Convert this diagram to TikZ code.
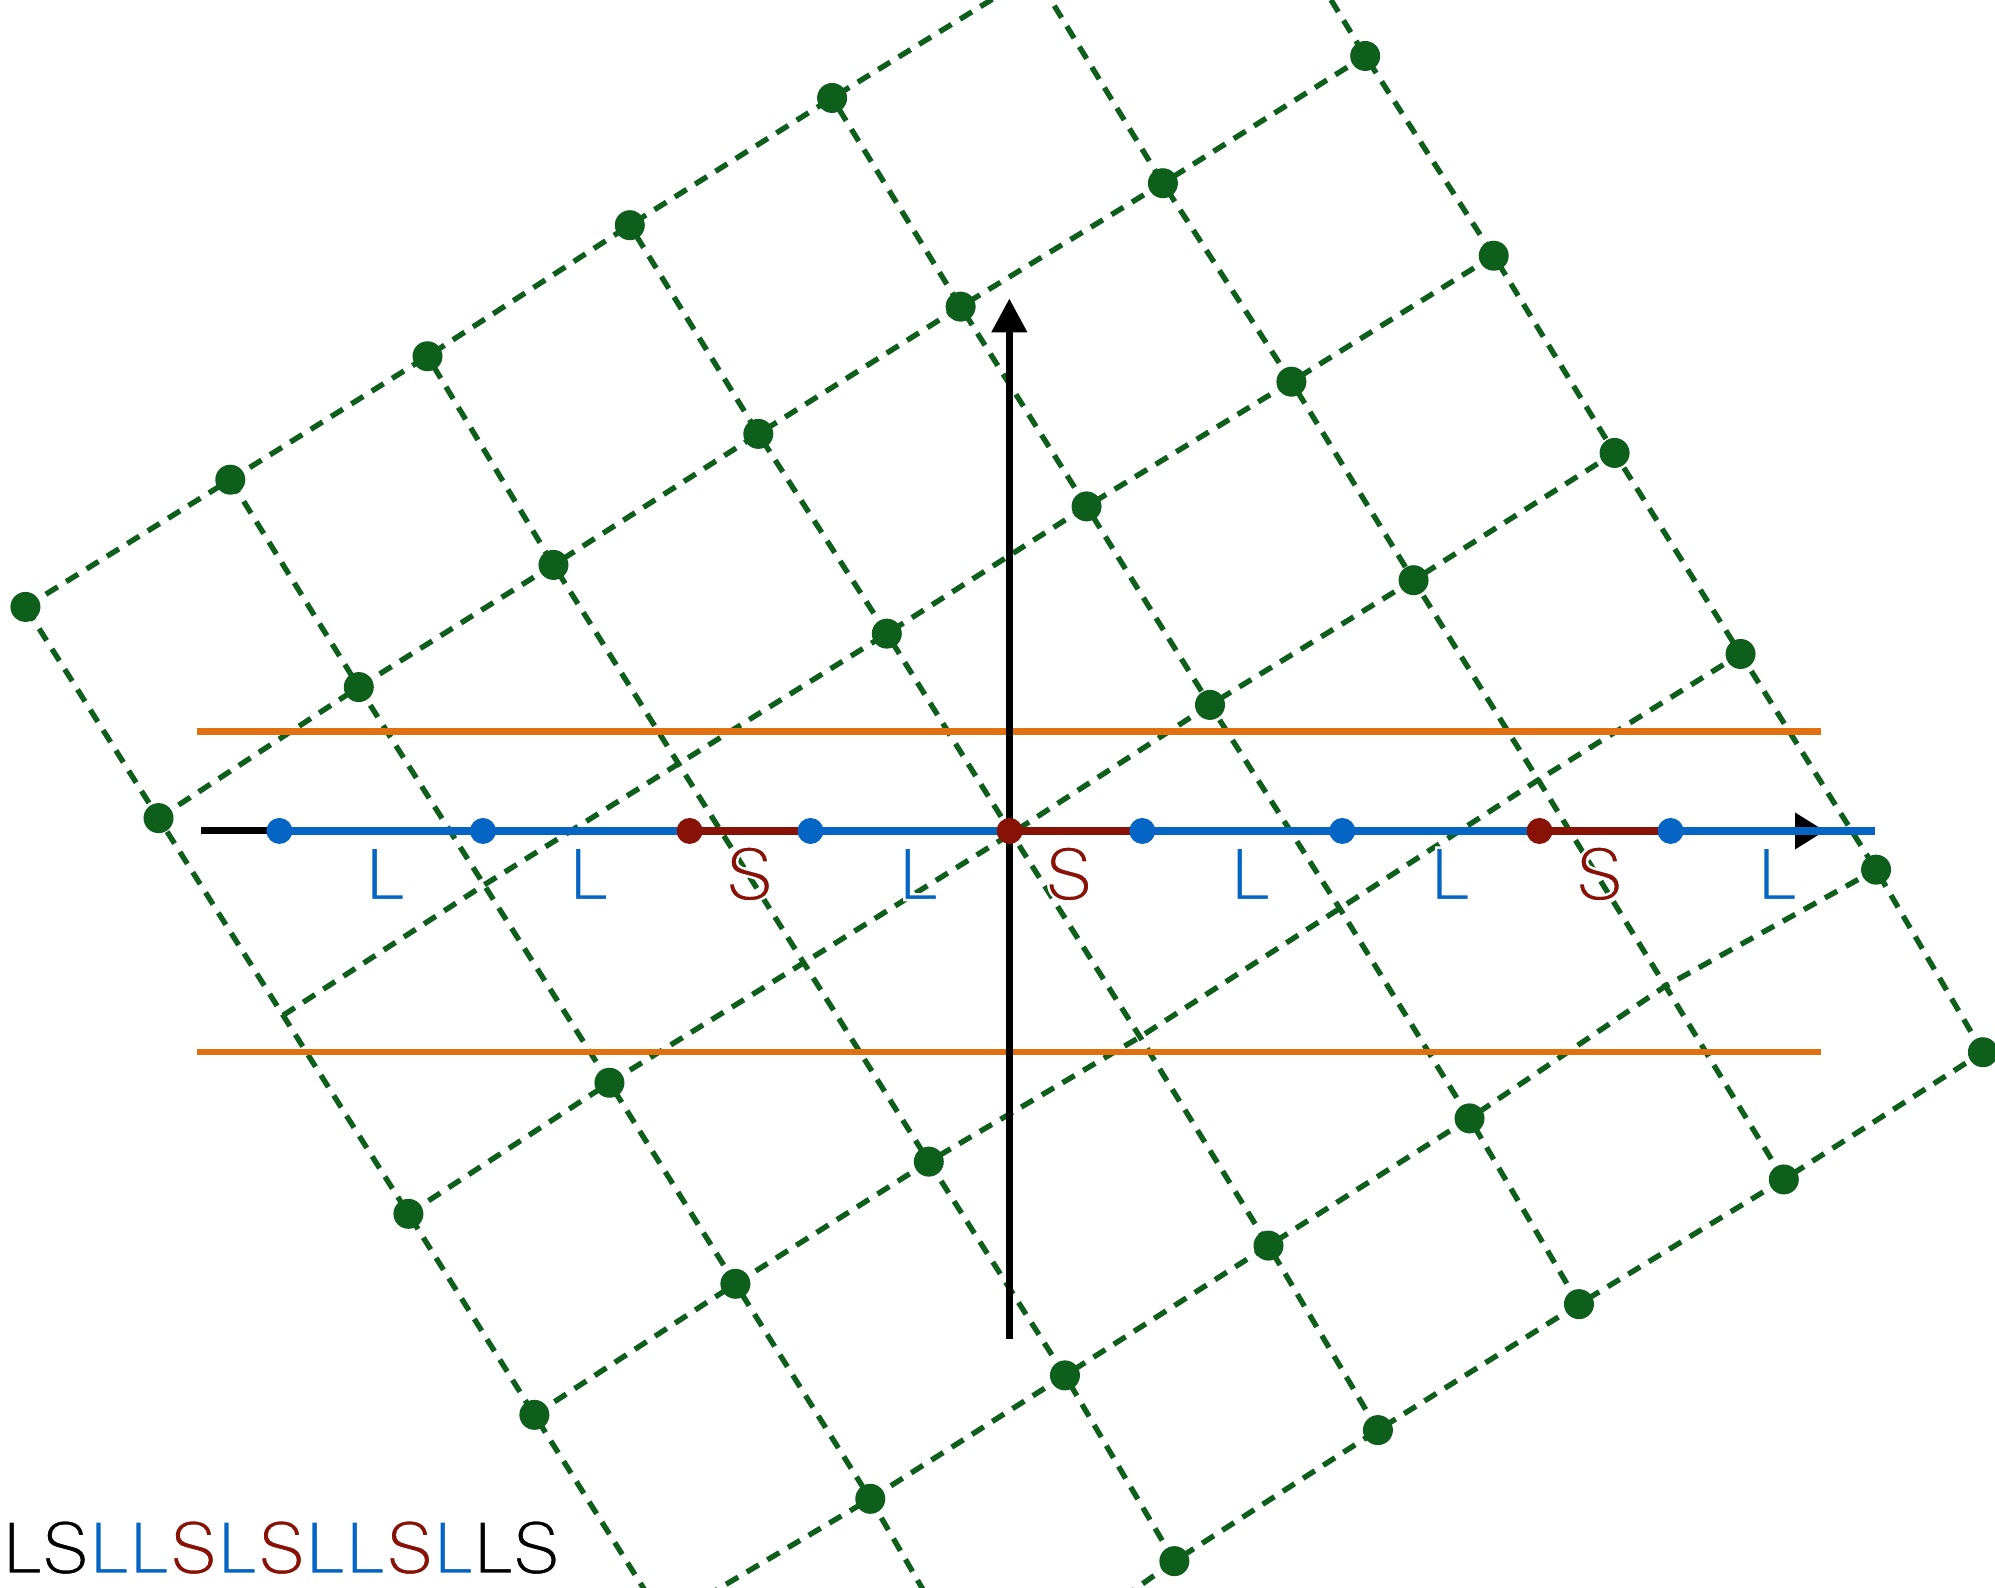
\documentclass[tikz,border=0pt]{standalone}
\usepackage{fontspec}
\setmainfont{TeX Gyre Heros}
\usetikzlibrary{arrows.meta}
\definecolor{gr}{RGB}{14,94,28}
\definecolor{bl}{RGB}{5,101,196}
\definecolor{rd}{RGB}{136,18,5}
\definecolor{orng}{RGB}{224,112,16}
% thin the glyphs: fill in colour, then stroke the outline in white
\newcommand\thintext[2]{\textcolor{#1}{\special{pdf:literal direct 2 Tr 1 1 1 RG 2.4 w}#2\special{pdf:literal direct 0 Tr}}}
\begin{document}
\begin{tikzpicture}[x=1.27232pt, y=-1.27232pt,
  gridline/.style={gr, line width=5.4pt, dash pattern=on 14pt off 10pt},
  gdot/.style={fill=gr},
  axisline/.style={black, line width=7.5pt},
  band/.style={orng, line width=6.5pt},
  seglong/.style={bl, line width=8pt},
  segshort/.style={rd, line width=8pt},
  lab/.style={anchor=base, inner sep=0pt, font=\fontsize{72}{80}\selectfont},
]
\useasboundingbox (0,0) rectangle (1568,1248);
% lattice points (m = a..g for -3..3, n = a..g for -3..3)
\coordinate (Paa) at (615,1432);  \coordinate (Pab) at (522,1274);
\coordinate (Pac) at (420,1112);  \coordinate (Pad) at (321,954);
\coordinate (Pae) at (222.5,798); \coordinate (Paf) at (124.6,643);
\coordinate (Pag) at (20,477);
\coordinate (Pba) at (774,1333);  \coordinate (Pbb) at (684,1178);
\coordinate (Pbc) at (578,1009);  \coordinate (Pbd) at (479,851);
\coordinate (Pbe) at (380.5,695.5); \coordinate (Pbf) at (282,540);
\coordinate (Pbg) at (181,377);
\coordinate (Pca) at (923,1227);  \coordinate (Pcb) at (837,1081);
\coordinate (Pcc) at (730,913);   \coordinate (Pcd) at (631.7,756.7);
\coordinate (Pce) at (533.3,600.3); \coordinate (Pcf) at (435,444);
\coordinate (Pcg) at (336,280);
\coordinate (Pda) at (1083,1124); \coordinate (Pdb) at (997,979);
\coordinate (Pdc) at (896,815);   \coordinate (Pdd) at (795,655);
\coordinate (Pde) at (697,498);   \coordinate (Pdf) at (596,341);
\coordinate (Pdg) at (495,177);
\coordinate (Pea) at (1241,1025); \coordinate (Peb) at (1155,879);
\coordinate (Pec) at (1053,714);  \coordinate (Ped) at (951,554);
\coordinate (Pee) at (854,398);   \coordinate (Pef) at (755,241);
\coordinate (Peg) at (654,77);
\coordinate (Pfa) at (1402,927);  \coordinate (Pfb) at (1309,775);
\coordinate (Pfc) at (1209,613);  \coordinate (Pfd) at (1111,456);
\coordinate (Pfe) at (1015,300);  \coordinate (Pff) at (914,144);
\coordinate (Pfg) at (813,-21);
\coordinate (Pga) at (1558.5,827); \coordinate (Pgb) at (1474.5,683.5);
\coordinate (Pgc) at (1368,514);  \coordinate (Pgd) at (1269,356);
\coordinate (Pge) at (1174,201);  \coordinate (Pgf) at (1073,44);
\coordinate (Pgg) at (973,-120);
\begin{scope}
  \clip (0,0) rectangle (1568,1248);
  \foreach \k in {a,b,c,d,e,f,g} {
    \draw[gridline] (Pa\k) -- (Pb\k) -- (Pc\k) -- (Pd\k) -- (Pe\k) -- (Pf\k) -- (Pg\k);
    \draw[gridline] (P\k a) -- (P\k b) -- (P\k c) -- (P\k d) -- (P\k e) -- (P\k f) -- (P\k g);
  }
  \foreach \p in {ac,ad,af,ag,bb,bc,bd,bf,bg,ca,cb,cc,cf,cg,da,db,de,df,dg,
                  ea,eb,ed,ee,ef,eg,fa,fd,fe,ff,ga,gb,gc,gd,ge,gf}
    \fill[gdot] (P\p) circle (15pt);
\end{scope}
% strip boundaries
\coordinate (O1l) at (155,575);  \coordinate (O1r) at (1431,575);
\coordinate (O2l) at (155,827);  \coordinate (O2r) at (1431,827);
\draw[band] (O1l) -- (O1r);
\draw[band] (O2l) -- (O2r);
% axes
\coordinate (Vb) at (793.3,1052);  \coordinate (Vt) at (793.3,234.5);
\coordinate (Hl) at (158,653.1);   \coordinate (Hr) at (1434.4,653.1);
\draw[axisline, -{Triangle[length=34pt,width=34pt]}] (Vb) -- (Vt);
\draw[axisline, line width=7pt, -{Triangle[length=30pt,width=35pt]}] (Hl) -- (Hr);
% projected points
\coordinate (A1) at (219.6,653.1); \coordinate (A2) at (379.6,653.1);
\coordinate (A3) at (542,653.1);   \coordinate (A4) at (637,653.1);
\coordinate (A5) at (793.5,653.1); \coordinate (A6) at (897.8,653.1);
\coordinate (A7) at (1055,653.1);  \coordinate (A8) at (1210,653.1);
\coordinate (A9) at (1313,653.1);  \coordinate (A10) at (1473.5,653.1);
\draw[seglong] (A1) -- (A10);
\draw[segshort] (A3) -- (A4);
\draw[segshort] (A5) -- (A6);
\draw[segshort] (A8) -- (A9);
\foreach \p in {A1,A2,A4,A6,A7,A9} \fill[bl] (\p) circle (13pt);
\foreach \p in {A3,A5,A8} \fill[rd] (\p) circle (13pt);
% labels
\node[lab] (t1) at (303,707.5) {\thintext{bl}{L}};
\node[lab] (t2) at (463,707.5) {\thintext{bl}{L}};
\node[lab] (t3) at (589,707.5) {\thintext{rd}{S}};
\node[lab] (t4) at (722,707.5) {\thintext{bl}{L}};
\node[lab] (t5) at (840,707.5) {\thintext{rd}{S}};
\node[lab] (t6) at (983,707.5) {\thintext{bl}{L}};
\node[lab] (t7) at (1140,707.5) {\thintext{bl}{L}};
\node[lab] (t8) at (1257,707.5) {\thintext{rd}{S}};
\node[lab] (t9) at (1397,707.5) {\thintext{bl}{L}};
\node[lab, anchor=base west] (word) at (2,1237) {\thintext{black}{LS}\thintext{bl}{LL}\thintext{rd}{S}\thintext{bl}{L}\thintext{rd}{S}\thintext{bl}{LL}\thintext{rd}{S}\thintext{bl}{L}\thintext{black}{LS}};
\end{tikzpicture}
\end{document}
